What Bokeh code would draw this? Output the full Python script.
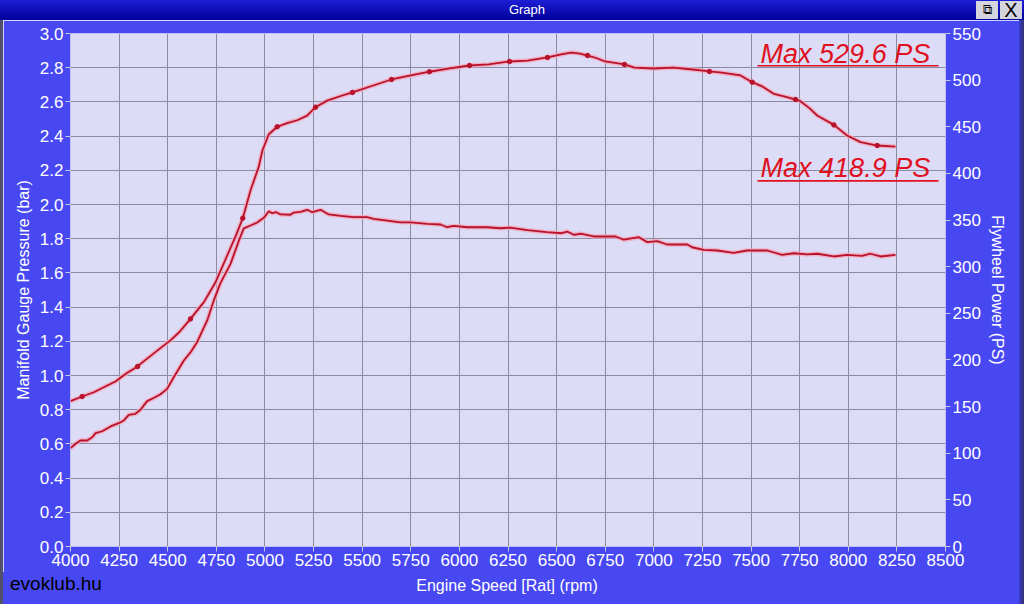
from bokeh.plotting import figure
from bokeh.models import Range1d, LinearAxis, FixedTicker, Label, Div, NumeralTickFormatter
from bokeh.layouts import column, row
from bokeh.embed import file_html
from bokeh.resources import INLINE

# ---------------- data ----------------
x_ticks = list(range(4000, 8501, 250))
bar_ticks = [round(0.2 * i, 1) for i in range(16)]
ps_ticks = list(range(0, 551, 50))

# Flywheel power curve (PS, right axis)
power_rpm = [4000, 4060, 4120, 4189, 4231, 4290, 4345, 4360, 4446, 4514, 4560, 4617,
             4686, 4745, 4806, 4850, 4886, 4926, 4968, 4987, 5020, 5063, 5114, 5166,
             5217, 5260, 5320, 5390, 5450, 5553, 5651, 5750, 5846, 5950, 6052, 6150,
             6258, 6350, 6453, 6530, 6575, 6620, 6659, 6700, 6750, 6849, 6900, 7000,
             7100, 7200, 7286, 7350, 7446, 7506, 7560, 7617, 7680, 7729, 7754, 7800,
             7840, 7926, 7994, 8063, 8149, 8243]
power_ps = [155.8, 160.8, 165.4, 172.6, 176.9, 186.0, 193.0, 195.8, 210.0, 221.0, 230.0, 244.0,
            262.0, 283.0, 312.0, 333.0, 352.0, 382.0, 407.0, 424.6, 442.0, 450.0, 454.0, 457.0,
            462.0, 471.0, 478.0, 483.0, 486.8, 494.0, 500.7, 505.0, 509.0, 512.5, 515.7, 516.8,
            520.0, 521.0, 524.3, 528.0, 529.6, 528.5, 526.4, 524.0, 520.0, 516.8, 513.5, 512.5,
            513.5, 511.4, 509.3, 508.0, 505.0, 497.8, 493.0, 485.3, 482.0, 479.2, 477.4, 470.0,
            462.1, 452.0, 440.6, 433.5, 429.9, 428.8]
power_dot_rpm = [4060, 4345, 4617, 4886, 5063, 5260, 5450, 5651, 5846, 6052, 6258, 6453,
                 6659, 6849, 7286, 7506, 7729, 7926, 8149]
power_dot_ps = [160.8, 193.0, 244.0, 352.0, 450.0, 471.0, 486.8, 500.7, 509.0, 515.7, 520.0, 524.3,
                526.4, 516.8, 509.3, 497.8, 479.2, 452.0, 429.9]

# Manifold gauge pressure curve (bar, left axis)
boost_rpm = [4000, 4026, 4051, 4086, 4112, 4129, 4163, 4206, 4248, 4274, 4300, 4334,
             4360, 4394, 4430, 4463, 4497, 4531, 4583, 4620, 4651, 4703, 4737, 4771,
             4823, 4866, 4891, 4926, 4960, 4994, 5020, 5037, 5059, 5080, 5131, 5148,
             5183, 5217, 5243, 5286, 5328, 5389, 5457, 5526, 5558, 5629, 5697, 5749,
             5835, 5903, 5937, 5970, 6040, 6143, 6211, 6260, 6350, 6450, 6526, 6554,
             6589, 6623, 6691, 6803, 6846, 6923, 6966, 7017, 7069, 7172, 7197, 7257,
             7326, 7411, 7480, 7583, 7660, 7720, 7789, 7840, 7926, 7994, 8071, 8114,
             8166, 8243]
boost_bar = [0.575, 0.601, 0.620, 0.620, 0.639, 0.663, 0.674, 0.702, 0.721, 0.737, 0.770, 0.776,
             0.800, 0.850, 0.870, 0.890, 0.922, 0.990, 1.088, 1.140, 1.195, 1.322, 1.439, 1.540,
             1.653, 1.789, 1.860, 1.877, 1.895, 1.922, 1.961, 1.949, 1.955, 1.942, 1.940, 1.953,
             1.957, 1.969, 1.955, 1.969, 1.942, 1.934, 1.926, 1.926, 1.916, 1.906, 1.896, 1.896,
             1.887, 1.883, 1.867, 1.875, 1.867, 1.867, 1.861, 1.865, 1.850, 1.838, 1.832, 1.842,
             1.823, 1.829, 1.813, 1.813, 1.794, 1.809, 1.780, 1.786, 1.766, 1.766, 1.750, 1.735,
             1.731, 1.717, 1.731, 1.731, 1.706, 1.715, 1.708, 1.712, 1.696, 1.706, 1.700, 1.712,
             1.696, 1.706]

max_texts = ["Max 529.6 PS", "Max 418.9 PS"]

# ---------------- style ----------------
FONT = "Liberation Sans"
BLUE = "#4848f2"
PLOT_BG = "#dcdcf7"
GRID = "#8a8aa2"
RED = "#b8122c"
HALO = "#f4a6b8"
LABEL_RED = "#e0101e"

title_bar = Div(
    text=(
        '<div style="position:relative;width:1024px;height:20px;'
        'background:linear-gradient(#1e1ed6,#00009a);color:#ffffff;'
        "font-family:'Liberation Sans';font-size:13px;line-height:20px;text-align:center;"
        'text-indent:30px;">Graph'
        '<span style="position:absolute;right:26px;top:1px;width:22px;height:18px;text-indent:0;'
        'background:#d4d4de;color:#000;font-size:13px;line-height:18px;text-align:center;">&#10697;</span>'
        '<span style="position:absolute;right:2px;top:1px;width:22px;height:18px;text-indent:0;'
        'background:#d4d4de;color:#000;font-size:20px;line-height:18px;text-align:center;">X</span>'
        '</div>'
    ),
    width=1024, height=20, margin=(0, 0, 0, 0),
)

left_edge = Div(text='<div style="width:3px;height:584px;background:#50506a;"></div>',
                width=3, height=584, margin=(0, 0, 0, 0))
right_edge = Div(text='<div style="width:5px;height:584px;background:linear-gradient(to right,#3a3ad0,#30306a);"></div>',
                 width=5, height=584, margin=(0, 0, 0, 0))

p = figure(width=1016, height=552, output_backend="svg", toolbar_location=None,
           x_range=Range1d(4000, 8500), y_range=Range1d(0, 3.0),
           min_border_left=67, min_border_right=74, min_border_top=13, min_border_bottom=26,
           background_fill_color=PLOT_BG, border_fill_color=BLUE,
           outline_line_color=None, margin=(0, 0, 0, 0))
p.extra_y_ranges = {"ps": Range1d(0, 550)}

p.xaxis.ticker = FixedTicker(ticks=x_ticks)
p.yaxis.ticker = FixedTicker(ticks=bar_ticks)
p.yaxis.formatter = NumeralTickFormatter(format="0.0")
p.xgrid.ticker = FixedTicker(ticks=x_ticks)
p.ygrid.ticker = FixedTicker(ticks=bar_ticks)
for g in (p.xgrid, p.ygrid):
    g.grid_line_color = GRID
    g.grid_line_width = 1

p.yaxis.axis_label = "Manifold Gauge Pressure (bar)"
right = LinearAxis(y_range_name="ps", ticker=FixedTicker(ticks=ps_ticks),
                   axis_label="Flywheel Power (PS)")
p.add_layout(right, "right")

for ax in p.xaxis + p.yaxis:
    ax.axis_line_color = None
    ax.major_tick_line_color = "#c8c8dc"
    ax.major_tick_out = 5
    ax.major_tick_in = 0
    ax.minor_tick_line_color = None
    ax.major_label_text_color = "white"
    ax.major_label_text_font = FONT
    ax.major_label_text_font_size = "17px"
    ax.axis_label_text_color = "white"
    ax.axis_label_text_font = FONT
    ax.axis_label_text_font_size = "16px"
    ax.axis_label_text_font_style = "normal"
    ax.major_label_standoff = 2
    ax.axis_label_standoff = 5

# curves: halo + line
p.line(power_rpm, power_ps, y_range_name="ps", line_color=HALO, line_width=4.5, line_alpha=0.8)
p.line(boost_rpm, boost_bar, line_color=HALO, line_width=4.5, line_alpha=0.8)
p.line(power_rpm, power_ps, y_range_name="ps", line_color=RED, line_width=1.8)
p.line(boost_rpm, boost_bar, line_color=RED, line_width=1.8)
p.scatter(power_dot_rpm, power_dot_ps, y_range_name="ps", size=4.5, color=RED)

# annotations (labels + underlines)
for txt, y_txt, y_ul in [(max_texts[0], 528.5, 515.5), (max_texts[1], 405.3, 392.0)]:
    p.add_layout(Label(x=7549, y=y_txt, y_range_name="ps", text=txt,
                       text_color=LABEL_RED, text_font=FONT, text_font_style="italic",
                       text_font_size="27px", text_baseline="alphabetic"))
    p.segment(x0=[7533], y0=[y_ul], x1=[8464], y1=[y_ul], y_range_name="ps",
              line_color=LABEL_RED, line_width=1.6)

bottom_bar = Div(
    text=(
        f'<div style="position:relative;width:1016px;height:32px;background:{BLUE};">'
        "<span style=\"position:absolute;left:7px;top:1px;font-family:'Liberation Sans';"
        'font-size:19px;line-height:22px;color:#000;">evoklub.hu</span>'
        "<span style=\"position:absolute;left:0;top:4px;width:1008px;text-align:center;"
        "font-family:'Liberation Sans';font-size:16px;line-height:20px;color:#fff;\">"
        'Engine Speed [Rat] (rpm)</span>'
        '</div>'
    ),
    width=1016, height=32, margin=(0, 0, 0, 0),
)

body = row(left_edge, column(p, bottom_bar, spacing=0, margin=(0, 0, 0, 0)), right_edge,
           spacing=0, margin=(0, 0, 0, 0))
layout = column(title_bar, body, spacing=0, margin=(0, 0, 0, 0))
open("out.html", "w").write(file_html(layout, INLINE))
